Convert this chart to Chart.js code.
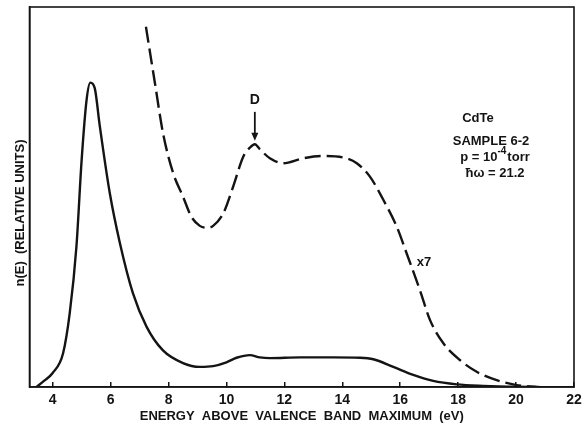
<!DOCTYPE html>
<html>
<head>
<meta charset="utf-8">
<script src="https://cdn.jsdelivr.net/npm/chart.js@4/dist/chart.umd.min.js"></script>
<style>
  html, body { margin: 0; padding: 0; background: #fff; }
  #wrap { width: 584px; height: 430px; }
</style>
</head>
<body>
<div id="wrap"><canvas id="c" width="584" height="430"></canvas></div>
<script>
// Energy axis tick labels (eV)
const energyTicks = [4, 6, 8, 10, 12, 14, 16, 18, 20, 22];

// Photoelectron energy distribution n(E), full scale
const fullEnergy = [3.44, 3.7, 4.0, 4.36, 4.59, 4.82, 5.0, 5.17, 5.30, 5.45, 5.63, 5.97, 6.32, 6.77,
  7.24, 7.8, 8.5, 9.08, 9.54, 10.0, 10.35, 10.81, 11.15, 11.5, 12.54, 13.69, 14.61, 15.07,
  15.76, 16.45, 17.14, 17.95, 18.87, 20.0, 20.8];
const fullDensity = [0, 1.6, 3.7, 8.9, 19.5, 36.9, 59.7, 75.5, 80.1, 78.7, 68.5, 51.1, 37.9, 24.7,
  15.9, 9.7, 6.3, 5.3, 5.5, 6.5, 7.7, 8.4, 7.8, 7.6, 7.8, 7.8, 7.7, 7.3,
  5.3, 3.2, 1.6, 0.7, 0.3, 0.05, 0];

// Same distribution magnified x7
const magEnergy = [7.22, 7.53, 7.81, 8.16, 8.5, 8.79, 9.08, 9.31, 9.54, 9.89, 10.23, 10.58, 10.81,
  10.98, 11.15, 11.5, 11.96, 12.65, 13.34, 14.03, 14.5, 14.96, 15.42, 15.88, 16.22, 16.68,
  17.03, 17.49, 18.06, 18.64, 19.33, 20.02, 20.7];
const magDensity = [94.8, 80, 66.8, 56.3, 50.1, 44.8, 42.4, 41.9, 42.4, 45.7, 52.7, 60.6, 63.0,
  63.9, 62.6, 60.2, 58.9, 60.2, 60.8, 60.4, 58.9, 55.3, 49.2, 42.2, 35.2, 25.5,
  17.6, 11.5, 7.1, 4.0, 1.8, 0.5, 0];

// Peak D marker (energy, arrow tip, arrow tail, label)
const peakD = { energy: 10.98, tip: 64.8, tail: 72.4, label: 75.6 };

const ink = '#141414';
const bold = (s) => `bold ${s}px "Liberation Sans", Arial, sans-serif`;

const toPoints = (xs, ys) => xs.map((v, i) => ({ x: v, y: ys[i] }));

const annotate = {
  id: 'annotate',
  afterDraw(chart) {
    const { ctx, chartArea: a, scales: { x, y } } = chart;
    ctx.save();
    // plot frame
    ctx.strokeStyle = ink;
    ctx.lineWidth = 1.6;
    ctx.strokeRect(a.left, a.top, a.right - a.left, a.bottom - a.top);

    // arrow marking peak D
    const px = x.getPixelForValue(peakD.energy);
    const yTail = y.getPixelForValue(peakD.tail);
    const yTip = y.getPixelForValue(peakD.tip);
    ctx.lineWidth = 1.8;
    ctx.beginPath();
    ctx.moveTo(px, yTail);
    ctx.lineTo(px, yTip - 6);
    ctx.stroke();
    ctx.fillStyle = ink;
    ctx.beginPath();
    ctx.moveTo(px - 3.5, yTip - 8);
    ctx.lineTo(px + 3.5, yTip - 8);
    ctx.lineTo(px, yTip);
    ctx.closePath();
    ctx.fill();

    ctx.textAlign = 'center';
    ctx.textBaseline = 'middle';
    ctx.font = bold(14);
    ctx.fillText('D', px, y.getPixelForValue(peakD.label));

    // sample description
    ctx.font = bold(13);
    ctx.fillText('CdTe', 478, 118);
    ctx.fillText('SAMPLE 6-2', 491, 141);
    // p = 10^-4 torr
    const base = 'p = 10', sup = '-4', tail = 'torr';
    ctx.textAlign = 'left';
    ctx.font = bold(13);
    const wBase = ctx.measureText(base).width;
    const wTail = ctx.measureText(tail).width;
    ctx.font = bold(10);
    const wSup = ctx.measureText(sup).width;
    let sx = 495 - (wBase + wSup + 1 + wTail) / 2;
    ctx.font = bold(13);
    ctx.fillText(base, sx, 157);
    ctx.font = bold(10);
    ctx.fillText(sup, sx + wBase, 151);
    ctx.font = bold(13);
    ctx.fillText(tail, sx + wBase + wSup + 1, 157);
    ctx.textAlign = 'center';
    ctx.fillText('\u0127\u03c9 = 21.2', 495, 173);
    ctx.fillText('x7', 424, 262);

    // vertical axis label
    ctx.translate(20, 213);
    ctx.rotate(-Math.PI / 2);
    ctx.font = bold(13);
    ctx.fillText('n(E)  (RELATIVE UNITS)', 0, 0);
    ctx.restore();
  }
};

new Chart(document.getElementById('c'), {
  type: 'line',
  data: {
    datasets: [
      {
        data: toPoints(fullEnergy, fullDensity),
        borderColor: ink,
        borderWidth: 2.4,
        cubicInterpolationMode: 'monotone',
        pointRadius: 0,
        fill: false
      },
      {
        data: toPoints(magEnergy, magDensity),
        borderColor: ink,
        borderWidth: 2.4,
        borderDash: [16, 6],
        cubicInterpolationMode: 'monotone',
        pointRadius: 0,
        fill: false
      }
    ]
  },
  options: {
    responsive: false,
    animation: false,
    devicePixelRatio: 1,
    layout: { padding: { top: 7, right: 10, left: 0, bottom: 0 } },
    plugins: { legend: { display: false }, tooltip: { enabled: false } },
    scales: {
      x: {
        type: 'linear',
        min: 3.2,
        max: 22,
        afterBuildTicks: (s) => { s.ticks = energyTicks.map(v => ({ value: v })); },
        afterFit: (s) => { s.height = 43; s.paddingLeft = 0; s.paddingRight = 0; },
        grid: { drawOnChartArea: false, drawTicks: true, tickLength: -5, color: ink, lineWidth: 1.5 },
        border: { display: true, color: ink, width: 1.6 },
        ticks: {
          padding: 10,
          color: ink,
          maxRotation: 0,
          autoSkip: false,
          font: { family: '"Liberation Sans", Arial, sans-serif', size: 14, weight: 'bold' }
        },
        title: {
          display: true,
          text: 'ENERGY  ABOVE  VALENCE  BAND  MAXIMUM  (eV)',
          color: ink,
          padding: { top: 0, bottom: 6 },
          font: { family: '"Liberation Sans", Arial, sans-serif', size: 13, weight: 'bold' }
        }
      },
      y: {
        type: 'linear',
        min: 0,
        max: 100,
        afterFit: (s) => { s.width = 29.5; },
        ticks: { display: false },
        grid: { display: false },
        border: { display: true, color: ink, width: 1.6 }
      }
    }
  },
  plugins: [annotate]
});
</script>
</body>
</html>
